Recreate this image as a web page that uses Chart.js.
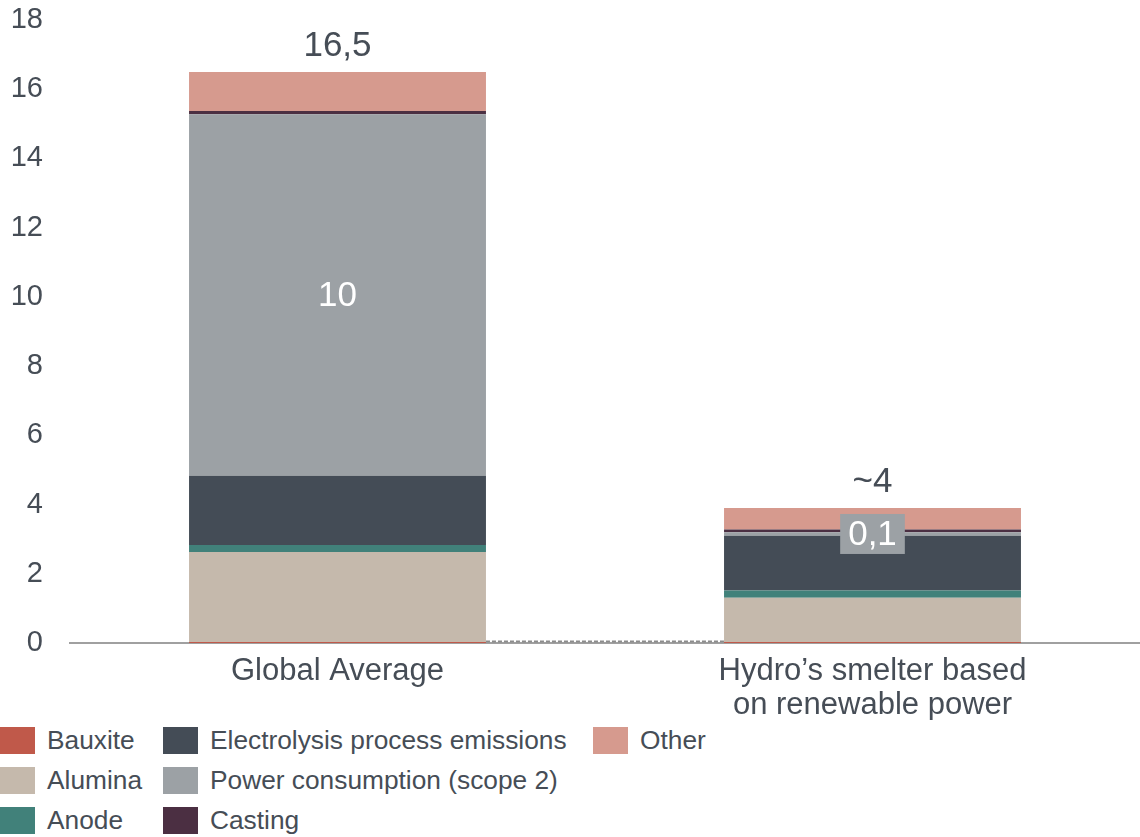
<!DOCTYPE html>
<html lang="en">
  <head>
    <meta charset="UTF-8" />
    <title>CO2 footprint of aluminium production</title>
    <script src="https://cdn.jsdelivr.net/npm/chart.js"></script>
    <style>
      html, body {
        margin: 0;
        padding: 0;
        background: #fff;
        overflow: hidden;
        font-family: "Liberation Sans", Arial, sans-serif;
      }
      .chart-box {
        position: relative;
        width: 1140px;
        height: 720px;
      }
      #legend {
        display: grid;
        grid-auto-flow: column;
        grid-template-rows: repeat(3, 40px);
        grid-template-columns: 163px 430px auto;
        width: 1140px;
        color: #464d56;
        font-size: 26.3px;
      }
      #legend .item {
        display: flex;
        align-items: center;
        white-space: nowrap;
      }
      #legend .swatch {
        width: 35px;
        height: 27px;
        margin-right: 12px;
        flex: none;
      }
    </style>
  </head>
  <body>
    <div class="chart-box">
      <canvas id="footprintChart"></canvas>
    </div>
    <div id="legend"></div>

    <script>
      const categories = [
        ["Global Average"],
        ["Hydro\u2019s smelter based", "on renewable power"],
      ];

      // t CO2 per t aluminium, bottom to top of each stack
      const bauxite = [0.03, 0.03];
      const alumina = [2.6, 1.28];
      const anode = [0.2, 0.21];
      const electrolysis = [2.0, 1.58];
      const power = [10.45, 0.1];
      const casting = [0.09, 0.08];
      const other = [1.13, 0.62];

      const seriesNames = [
        "Bauxite",
        "Alumina",
        "Anode",
        "Electrolysis process emissions",
        "Power consumption (scope 2)",
        "Casting",
        "Other",
      ];
      const seriesValues = [bauxite, alumina, anode, electrolysis, power, casting, other];
      const seriesColors = [
        "#c0594a",
        "#c5b9ac",
        "#41817a",
        "#444c56",
        "#9ca1a5",
        "#4b2f42",
        "#d69a8e",
      ];

      // which series carries a value label, and whether the total is approximate
      const labelledSeries = ["Power consumption (scope 2)"];
      const totalApprox = [false, true];

      const yTicks = [0, 2, 4, 6, 8, 10, 12, 14, 16, 18];

      const textColor = "#464d56";
      const fontFamily = '"Liberation Sans", Arial, sans-serif';

      const totals = categories.map((_, i) =>
        seriesValues.reduce((sum, s) => sum + s[i], 0)
      );

      function fmtComma(v) {
        return v.toFixed(1).replace(".", ",");
      }

      function fmtSegment(v) {
        return v >= 1 ? String(Math.round(v)) : fmtComma(v);
      }

      function fmtTotal(v, approx) {
        return approx ? "~" + Math.round(v) : fmtComma(v);
      }

      const barLabels = {
        id: "barLabels",
        afterDatasetsDraw(chart) {
          const ctx = chart.ctx;
          const y = chart.scales.y;
          const firstMeta = chart.getDatasetMeta(0);

          // dashed connector along the base between the two bars
          const b0 = firstMeta.data[0];
          const b1 = firstMeta.data[1];
          const baseY = Math.round(y.getPixelForValue(bauxite[0])) - 0.5;
          ctx.save();
          ctx.strokeStyle = "#8c8c8c";
          ctx.lineWidth = 2;
          ctx.setLineDash([4, 2]);
          ctx.beginPath();
          ctx.moveTo(b0.x + b0.width / 2, baseY);
          ctx.lineTo(b1.x - b1.width / 2, baseY);
          ctx.stroke();
          ctx.restore();

          ctx.save();
          ctx.font = "35px " + fontFamily;
          ctx.textAlign = "center";
          ctx.textBaseline = "middle";

          // segment value labels
          chart.data.datasets.forEach((ds, di) => {
            if (!labelledSeries.includes(ds.label)) return;
            const meta = chart.getDatasetMeta(di);
            meta.data.forEach((bar, i) => {
              const v = ds.data[i];
              const txt = fmtSegment(v);
              const cy = (bar.y + bar.base) / 2;
              const segH = Math.abs(bar.base - bar.y);
              if (segH < 40) {
                const w = ctx.measureText(txt).width + 16;
                ctx.fillStyle = ds.backgroundColor;
                ctx.fillRect(bar.x - w / 2, cy - 20, w, 40);
              }
              ctx.fillStyle = "#ffffff";
              ctx.fillText(txt, bar.x, cy + 1);
            });
          });

          // stack totals above each bar
          ctx.fillStyle = textColor;
          totals.forEach((t, i) => {
            const bar = firstMeta.data[i];
            ctx.fillText(fmtTotal(t, totalApprox[i]), bar.x, y.getPixelForValue(t) - 26);
          });
          ctx.restore();
        },
      };

      new Chart(document.getElementById("footprintChart"), {
        type: "bar",
        data: {
          labels: categories,
          datasets: seriesNames.map((name, i) => ({
            label: name,
            data: seriesValues[i],
            backgroundColor: seriesColors[i],
            borderWidth: 0,
            barPercentage: 0.555,
            categoryPercentage: 1,
          })),
        },
        options: {
          responsive: true,
          maintainAspectRatio: false,
          animation: false,
          layout: { padding: 0 },
          plugins: {
            legend: { display: false },
            tooltip: { enabled: false },
          },
          scales: {
            x: {
              stacked: true,
              grid: { display: false, drawTicks: false },
              border: { display: true, color: "#a0a0a0", width: 2 },
              ticks: {
                color: textColor,
                padding: 11,
                font: { family: fontFamily, size: 31, lineHeight: "34px" },
              },
              afterFit(scale) {
                scale.height = 77;
              },
            },
            y: {
              stacked: true,
              min: 0,
              max: 18,
              grid: { display: false, drawTicks: false },
              border: { display: false },
              afterBuildTicks(scale) {
                scale.ticks = yTicks.map((v) => ({ value: v }));
              },
              ticks: {
                color: textColor,
                padding: 27,
                font: { family: fontFamily, size: 29 },
              },
              afterFit(scale) {
                scale.width = 70;
                scale.paddingTop = 20;
                scale.paddingBottom = 0;
              },
            },
          },
        },
        plugins: [barLabels],
      });

      // legend laid out in columns, same order as the stacks
      const legend = document.getElementById("legend");
      seriesNames.forEach((name, i) => {
        const item = document.createElement("div");
        item.className = "item";
        const sw = document.createElement("span");
        sw.className = "swatch";
        sw.style.background = seriesColors[i];
        const label = document.createElement("span");
        label.textContent = name;
        item.appendChild(sw);
        item.appendChild(label);
        legend.appendChild(item);
      });
    </script>
  </body>
</html>
